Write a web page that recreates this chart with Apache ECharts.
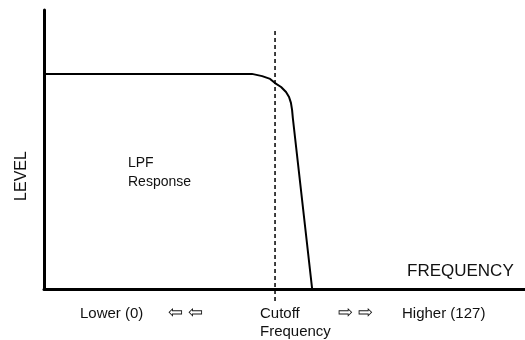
<!DOCTYPE html>
<html>
<head>
<meta charset="utf-8">
<script src="https://cdn.jsdelivr.net/npm/echarts@6/dist/echarts.min.js"></script>
<style>
  html, body { margin: 0; padding: 0; background: #fff; }
  #chart { width: 525px; height: 340px; }
</style>
</head>
<body>
<div id="chart"></div>
<script>
// Low-pass filter response: frequency (0..127) vs. level
const freqRange = [0, 127];
const levelRange = [0, 100];
const cutoff = 61;

// Response curve: flat pass band, rounded knee near the cutoff, steep straight roll-off
const responseFreq  = [0,    54.9, 57.6, 59.7, 61.0, 62.6, 63.9, 64.7, 65.2, 65.5, 65.7, 70.8, 127];
const responseLevel = [77.1, 77.1, 76.3, 75.3, 73.8, 72.4, 70.6, 68.8, 66.7, 64.2, 61.3, 0,    0];

// Cutoff marker extends a bit above and below the plot area
const cutoffLevels = [92.5, -5];

const axisTitles = { x: 'FREQUENCY', y: 'LEVEL' };
const areaLabel = ['LPF', 'Response'];
const bottomLabels = ['Lower (0)', '⇦ ⇦', 'Cutoff', 'Frequency', '⇨ ⇨', 'Higher (127)'];

const font = '"Liberation Sans", Arial, sans-serif';
const chart = echarts.init(document.getElementById('chart'), null, { renderer: 'canvas' });

function txt(text, left, top, size) {
  return {
    type: 'text', left: left, top: top, silent: true,
    style: { text: text, fill: '#111', font: size + 'px ' + font }
  };
}

chart.setOption({
  animation: false,
  grid: { left: 44, right: 0, top: 10, bottom: 51 },
  xAxis: {
    type: 'value', min: freqRange[0], max: freqRange[1],
    axisLine: { show: true, lineStyle: { color: '#000', width: 3 } },
    axisTick: { show: false }, axisLabel: { show: false }, splitLine: { show: false }
  },
  yAxis: {
    type: 'value', min: levelRange[0], max: levelRange[1],
    axisLine: { show: true, lineStyle: { color: '#000', width: 3 } },
    axisTick: { show: false }, axisLabel: { show: false }, splitLine: { show: false }
  },
  series: [
    {
      type: 'line',
      data: responseFreq.map((f, i) => [f, responseLevel[i]]),
      smooth: false,
      symbol: 'none',
      lineStyle: { color: '#000', width: 2, join: 'round' }
    },
    {
      type: 'line',
      data: cutoffLevels.map(l => [cutoff, l]),
      symbol: 'none',
      clip: false,
      lineStyle: { color: '#000', width: 1.5, type: [4, 3] }
    }
  ],
  graphic: [
    {
      type: 'text', x: 22, y: 176, rotation: Math.PI / 2, silent: true,
      style: { text: axisTitles.y, fill: '#111', font: '16px ' + font, align: 'center', verticalAlign: 'middle' }
    },
    txt(areaLabel[0], 128, 156, 14),
    txt(areaLabel[1], 128, 175, 14),
    txt(axisTitles.x, 407, 263, 17),
    txt(bottomLabels[0], 80, 306, 15),
    txt(bottomLabels[1], 168, 304, 18),
    txt(bottomLabels[2], 260, 306, 15),
    txt(bottomLabels[3], 260, 324, 15),
    txt(bottomLabels[4], 338, 304, 18),
    txt(bottomLabels[5], 402, 306, 15)
  ]
});
</script>
</body>
</html>
